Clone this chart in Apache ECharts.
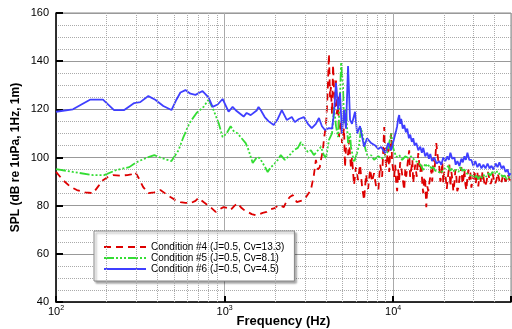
<!DOCTYPE html>
<html>
<head>
<meta charset="utf-8">
<script src="https://cdn.jsdelivr.net/npm/echarts@6/dist/echarts.min.js"></script>
<style>
  html, body { margin: 0; padding: 0; background: #fff; }
  #chart { width: 512px; height: 329px; }
</style>
</head>
<body>
<div id="chart"></div>
<script>
// series names as in the legend
const names = ['Condition #4 (J=0.5, Cv=13.3)', 'Condition #5 (J=0.5, Cv=8.1)', 'Condition #6 (J=0.5, Cv=4.5)']

// [frequency Hz, SPL dB]
const cond4 = [
  [100, 94], [110, 90.6], [121, 88], [133, 86.5], [149, 85.5], [166, 85.2], [178, 88], [190, 90.6], [204, 92],
  [218, 92.7], [240, 92.5], [265, 92.7], [279, 93], [295, 94], [312, 91], [329, 87.7], [353, 85.2], [383, 85.5],
  [416, 86.5], [446, 85], [477, 83.6], [511, 82.3], [547, 81.5], [586, 81.2], [627, 81], [672, 82], [700, 83.2],
  [750, 81.5], [792, 80.3], [837, 79], [885, 77.4], [934, 78.5], [986, 79.4], [1042, 79], [1086, 78.2], [1147, 80],
  [1195, 81], [1262, 79], [1315, 78], [1371, 77.4], [1448, 76.5], [1530, 76], [1615, 76.5], [1683, 77], [1778, 77.4],
  [1879, 78.5], [1984, 79], [2096, 80.3], [2245, 79.4], [2338, 82], [2437, 83.6], [2540, 84.4], [2680, 81.5],
  [2834, 82], [2950, 82.3], [3070, 84], [3250, 86.5], [3385, 92.7], [3480, 99], [3580, 95], [3670, 96], [3730, 99],
  [3830, 103], [3880, 107.3], [4000, 114], [4050, 121], [4100, 130], [4160, 143], [4220, 125], [4270, 129.3],
  [4340, 118], [4400, 138.4], [4460, 128], [4520, 121], [4580, 132], [4640, 118], [4710, 126], [4770, 108.5],
  [4910, 114.7], [4970, 106], [5110, 112.2], [5180, 96], [5250, 104], [5400, 101], [5470, 107.3], [5620, 95.6],
  [5700, 100], [5860, 88.6], [6020, 96], [6190, 90.6], [6360, 97], [6540, 88], [6720, 82.3], [6910, 93], [7100, 87],
  [7300, 95], [7500, 90], [7700, 93.5], [7920, 88], [8170, 86.5], [8370, 97], [8600, 92], [8850, 112.7], [8970, 100],
  [9100, 96], [9340, 104], [9470, 94], [9730, 110], [9860, 98], [10140, 92], [10280, 97], [10420, 89.4], [10560, 86],
  [10710, 95], [10860, 90.6], [11000, 98], [11160, 96], [11400, 91], [11630, 86.5], [11800, 95], [11950, 92],
  [12200, 98], [12450, 103], [12600, 92], [12800, 95], [13000, 99], [13150, 89.4], [13300, 93], [13520, 97],
  [13800, 92], [14090, 101.8], [14300, 97], [14480, 94], [14700, 98], [14880, 89], [15080, 85.2], [15300, 92],
  [15500, 90], [15720, 79.4], [15950, 88], [16150, 86], [16380, 89.4], [16600, 92], [16830, 95], [17050, 90],
  [17300, 100], [17650, 96], [18020, 106], [18270, 102], [18500, 99], [18790, 96], [19050, 90], [19300, 92],
  [19560, 98], [19840, 89.4], [20100, 94], [20400, 93], [20800, 87], [21250, 93.5], [21550, 97], [21850, 88],
  [22150, 94], [22450, 91], [22750, 86], [23070, 89.4], [23400, 95], [23710, 92], [24000, 86], [24370, 87.5],
  [24900, 93], [25400, 96], [25750, 89], [26100, 91], [26450, 95], [26800, 89], [27200, 86.5], [27570, 92],
  [27950, 95], [28340, 90.6], [28700, 94], [29100, 87.5], [29500, 90], [29940, 92], [30400, 94.8], [30800, 89],
  [31200, 91], [31600, 94], [32000, 88], [32450, 92.5], [32900, 91], [33400, 89.4], [33850, 94], [34300, 92],
  [35000, 88], [35800, 90], [36500, 94], [37300, 93.5], [37800, 89], [38300, 90], [38800, 93.5], [39400, 91.5],
  [40200, 89], [41000, 90.6], [41600, 93.5], [42200, 92], [43100, 89], [44000, 90], [44900, 93], [45800, 92.7],
  [46400, 90], [47100, 91], [47800, 93], [48400, 92], [49000, 90.5], [49700, 91.5]
]

const cond5 = [
  [100, 95.2], [126, 94], [166, 92.7], [193, 92.7], [228, 94.8], [272, 96], [299, 98], [343, 99.8], [383, 101],
  [422, 99.8], [484, 98.5], [533, 103], [570, 108.5], [619, 114.3], [682, 118.5], [750, 121], [803, 124], [860, 119.7],
  [922, 114.3], [973, 108.5], [1028, 110], [1086, 113], [1131, 111], [1195, 110], [1262, 108], [1334, 106], [1389, 103],
  [1468, 97.7], [1550, 100], [1615, 99.8], [1706, 97], [1802, 94], [1879, 96], [1958, 97], [2068, 99], [2154, 101],
  [2276, 99], [2371, 100.2], [2470, 101.5], [2575, 103], [2720, 104], [2834, 106.4], [2994, 104], [3120, 102.3],
  [3250, 103], [3385, 101], [3580, 103], [3730, 104.4], [3880, 101], [4000, 99.8], [4160, 107.3], [4340, 110],
  [4460, 121], [4580, 113], [4710, 108.5], [4840, 125], [4910, 139.5], [5040, 130], [5110, 114.3], [5250, 120],
  [5400, 106], [5550, 110], [5620, 104.4], [5860, 98], [6110, 102], [6270, 105], [6450, 112.2], [6620, 108.5],
  [6815, 104], [7100, 99.8], [7400, 101], [7700, 99], [8170, 100.5], [8490, 99.5], [8850, 100.2], [9220, 102],
  [9470, 106], [9730, 110], [10000, 104], [10420, 100.2], [10860, 101], [11310, 99], [11790, 100.5], [12280, 99.8],
  [12800, 100.5], [13520, 98.5], [14090, 98], [14680, 96.5], [15080, 94.8], [15500, 97.5], [15930, 96], [16400, 97],
  [16830, 95.5], [17300, 96], [17780, 94.5], [18530, 94], [19300, 93.5], [19800, 95], [20400, 95.5], [21250, 96.5],
  [21800, 94.5], [22450, 95.5], [23100, 94], [23710, 95], [24400, 94], [25040, 96], [25700, 94.5], [26460, 95],
  [27200, 93.5], [27930, 94], [28700, 92.5], [29500, 93], [30300, 91.5], [31200, 92.5], [32000, 91], [32900, 92.5],
  [33800, 91.5], [34800, 93], [35700, 92], [36700, 93.5], [37700, 92.5], [38800, 94], [39900, 93], [41000, 94.5],
  [42100, 93], [43300, 93.5], [44500, 92], [45800, 92.5], [47100, 91], [48400, 92], [49800, 91]
]

const cond6 = [
  [100, 119], [126, 120], [159, 124], [190, 124], [221, 119.7], [254, 119.7], [291, 122.6], [316, 123], [353, 125.5],
  [388, 124], [433, 121.4], [484, 119.7], [518, 124], [547, 127], [586, 128], [627, 126.5], [672, 126], [740, 127.6],
  [803, 125], [849, 121], [910, 122], [973, 124.3], [1056, 119], [1116, 121], [1179, 119.3], [1297, 117], [1352, 118.5],
  [1428, 117.6], [1550, 119.5], [1590, 121], [1638, 119.7], [1730, 116.8], [1827, 115], [1958, 113.5], [2068, 116],
  [2185, 119.7], [2338, 115.6], [2504, 116.8], [2610, 114.7], [2760, 116], [2950, 116.8], [3120, 114], [3290, 112.2],
  [3480, 114], [3630, 116.4], [3780, 113], [3940, 111.4], [4160, 112.2], [4340, 112], [4460, 118.5], [4580, 131],
  [4710, 120], [4840, 126.8], [4970, 110], [5110, 119.7], [5250, 112], [5400, 138], [5550, 115.6], [5700, 114],
  [5940, 119], [6110, 110], [6360, 113], [6720, 104.5], [7000, 108], [7400, 106], [7820, 105], [8170, 103.5],
  [8490, 104.4], [8970, 101.8], [9340, 106], [9730, 103], [10140, 108], [10400, 111], [10560, 113], [10700, 116],
  [10860, 117.6], [11000, 114], [11160, 116], [11400, 112], [11630, 113.5], [11900, 110.5], [12120, 112], [12400, 108],
  [12620, 109.5], [12900, 106.5], [13150, 108], [13400, 105], [13710, 106], [14100, 103], [14480, 104.5], [14800, 102],
  [15080, 104], [15500, 100.5], [15930, 102], [16300, 99.5], [16600, 101.5], [17000, 98.5], [17540, 100], [18100, 97.5],
  [18790, 98.5], [19300, 97], [19840, 100], [20400, 98.5], [20960, 100.5], [21400, 99], [21850, 102], [22400, 99.5],
  [23070, 100], [23500, 97], [24040, 98.5], [24700, 96.5], [25400, 99.5], [25900, 98], [26460, 100.5], [27000, 99],
  [27570, 102], [28300, 99], [29100, 99], [29900, 96.5], [30700, 98.5], [31600, 96], [32500, 97.5], [33400, 95.5],
  [34300, 97], [35300, 95.5], [36300, 97.5], [37300, 95.5], [38300, 96.5], [39400, 95], [40500, 97.5], [41600, 96],
  [42700, 98], [44000, 95.5], [45200, 96.5], [46400, 94], [47700, 95], [48700, 92.5], [49700, 93.5]
]

// dotted gridlines between the decades
const minorFreqs = [200, 300, 400, 500, 600, 700, 800, 900, 2000, 3000, 4000, 5000, 6000, 7000, 8000, 9000,
  20000, 30000, 40000]

const font = 'Liberation Sans, Arial, sans-serif'
const chart = echarts.init(document.getElementById('chart'))

function curve(name, data, color, type) {
  return {
    name: name,
    type: 'line',
    data: data,
    symbol: 'none',
    symbolSize: 0,
    z: 3,
    lineStyle: { color: color, width: 1.8, type: type },
    itemStyle: { color: color }
  }
}

chart.setOption({
  animation: false,
  grid: {
    left: 56, right: 1, top: 13, bottom: 27,
    outerBoundsMode: 'none',
    show: true, borderColor: '#888', borderWidth: 1
  },
  legend: {
    data: names,
    orient: 'vertical',
    left: 94,
    top: 231,
    itemWidth: 42,
    itemHeight: 9,
    itemGap: 1,
    padding: [11, 10, 7, 9],
    backgroundColor: '#fff',
    borderColor: '#888',
    borderWidth: 1,
    shadowColor: 'rgba(0,0,0,0.35)',
    shadowBlur: 2,
    shadowOffsetX: 2,
    shadowOffsetY: 2,
    itemStyle: { opacity: 0 },
    textStyle: { fontFamily: font, fontSize: 10, color: '#000' }
  },
  xAxis: {
    type: 'log',
    logBase: 10,
    min: 100,
    max: 50000,
    name: 'Frequency (Hz)',
    nameLocation: 'middle',
    nameGap: 13,
    nameMoveOverlap: false,
    nameTextStyle: { fontFamily: font, fontSize: 13, fontWeight: 'bold', color: '#000' },
    axisLine: { show: true, lineStyle: { color: '#000', width: 1.5 } },
    axisTick: { inside: true, length: 6, lineStyle: { color: '#000', width: 2 } },
    axisLabel: {
      margin: 3,
      formatter: function (v) {
        const p = Math.round(Math.log10(v))
        if (Math.abs(Math.pow(10, p) - v) > 1e-6 * v) return ''
        return '{b|10}{s|' + p + '}'
      },
      rich: {
        b: { fontFamily: font, fontSize: 11, color: '#000' },
        s: { fontFamily: font, fontSize: 7, color: '#000', padding: [0, 0, 7, 0] }
      }
    },
    splitLine: { show: true, lineStyle: { color: '#aaa', width: 1 } }
  },
  yAxis: {
    type: 'value',
    min: 40,
    max: 160,
    interval: 20,
    name: 'SPL (dB re 1uPa, 1Hz, 1m)',
    nameLocation: 'middle',
    nameGap: 34,
    nameMoveOverlap: false,
    nameTextStyle: { fontFamily: font, fontSize: 12, fontWeight: 'bold', color: '#000' },
    axisLine: { show: true, lineStyle: { color: '#000', width: 1.5 } },
    axisTick: { inside: true, length: 7, lineStyle: { color: '#000', width: 2 } },
    axisLabel: { margin: 7, fontFamily: font, fontSize: 11, color: '#000' },
    splitLine: { show: true, lineStyle: { color: '#999', width: 1 } },
    minorTick: { show: false, splitNumber: 4 },
    minorSplitLine: { show: true, lineStyle: { color: '#aaa', type: 'dotted', width: 1 } }
  },
  series: [
    {
      type: 'line',
      data: [],
      silent: true,
      z: 1,
      markLine: {
        silent: true,
        symbol: ['none', 'none'],
        label: { show: false },
        lineStyle: { color: '#aaa', type: 'dotted', width: 1 },
        data: minorFreqs.map(f => ({ xAxis: f }))
      }
    },
    curve(names[0], cond4, '#dd0000', [7, 5]),
    curve(names[1], cond5, '#33dd33', [10, 2, 2, 2, 2, 2, 2, 2]),
    curve(names[2], cond6, '#3f3fff', 'solid')
  ]
})
</script>
</body>
</html>
